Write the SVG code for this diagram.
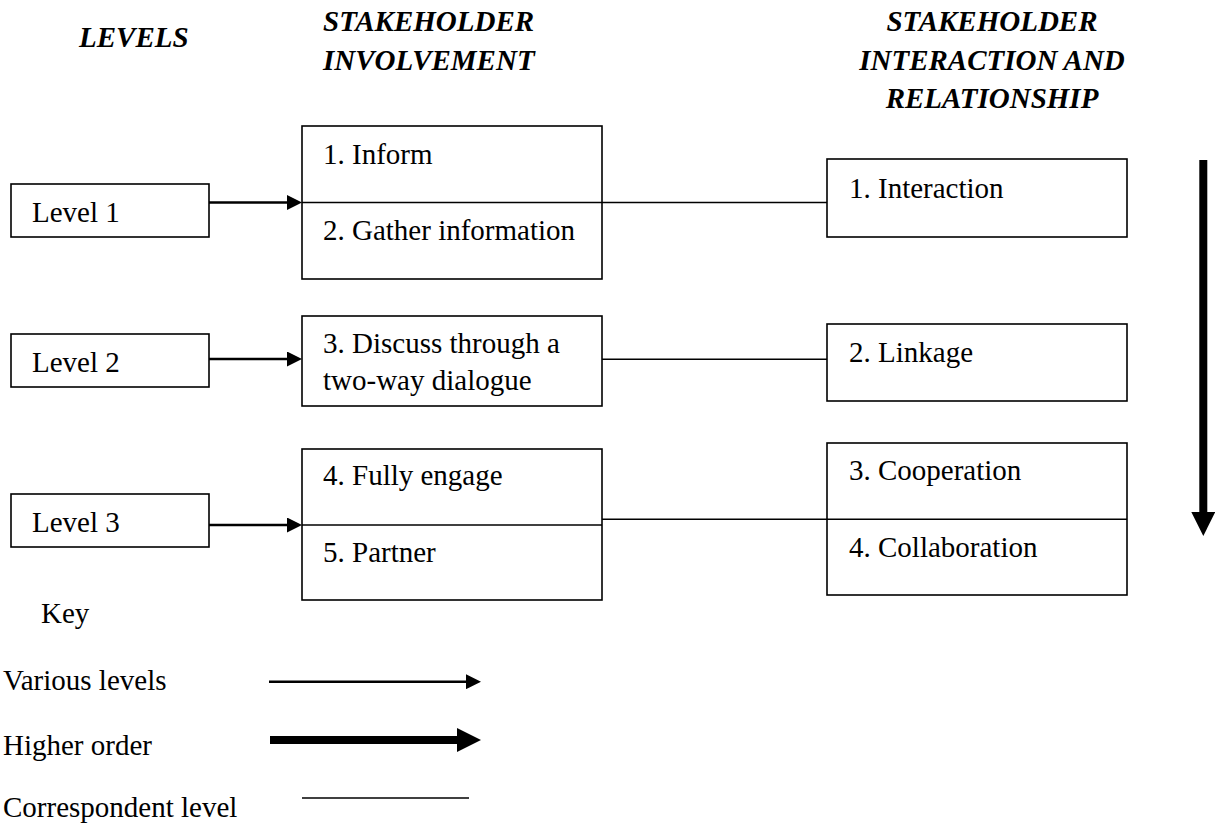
<svg xmlns="http://www.w3.org/2000/svg" width="1219" height="827" viewBox="0 0 1219 827">
  <style>
    .bg { fill: #ffffff; }
    .box { fill: #ffffff; stroke: #000000; stroke-width: 1.6; }
    .div { stroke: #000000; stroke-width: 1.6; fill: none; }
    .arrow { stroke: #000000; stroke-width: 2.5; fill: none; }
    .thick { stroke: #000000; stroke-width: 8; fill: none; }
    .link { stroke: #000000; stroke-width: 1.6; fill: none; }
    .head { font-family: "Liberation Serif", "Times New Roman", serif; font-size: 29px; font-weight: bold; font-style: italic; fill: #000000; }
    .lbl { font-family: "Liberation Serif", "Times New Roman", serif; font-size: 29px; fill: #000000; }
  </style>
  <defs>
    <marker id="tri" viewBox="0 0 15 15" refX="0" refY="7.5" markerWidth="15" markerHeight="15" markerUnits="userSpaceOnUse" orient="auto">
      <path d="M0,0 L15,7.5 L0,15 Z" fill="#000000"/>
    </marker>
    <marker id="triBig" viewBox="0 0 24 24" refX="0" refY="12" markerWidth="24" markerHeight="24" markerUnits="userSpaceOnUse" orient="auto">
      <path d="M0,0 L24,12 L0,24 Z" fill="#000000"/>
    </marker>
  </defs>

  <rect class="bg" x="0" y="0" width="1219" height="827"/>

  <!-- column headings -->
  <g id="heading-levels">
    <text class="head" x="79" y="47">LEVELS</text>
  </g>
  <g id="heading-involvement">
    <text class="head" x="323" y="31">STAKEHOLDER</text>
    <text class="head" x="323" y="70">INVOLVEMENT</text>
  </g>
  <g id="heading-relationship">
    <text class="head" x="992" y="31" text-anchor="middle">STAKEHOLDER</text>
    <text class="head" x="992" y="70" text-anchor="middle">INTERACTION AND</text>
    <text class="head" x="992" y="108" text-anchor="middle">RELATIONSHIP</text>
  </g>

  <!-- level boxes -->
  <g id="level-1">
    <rect class="box" x="11" y="184" width="198" height="53"/>
    <text class="lbl" x="32" y="222">Level 1</text>
  </g>
  <g id="level-2">
    <rect class="box" x="11" y="334" width="198" height="53"/>
    <text class="lbl" x="32" y="372">Level 2</text>
  </g>
  <g id="level-3">
    <rect class="box" x="11" y="494" width="198" height="53"/>
    <text class="lbl" x="32" y="532">Level 3</text>
  </g>

  <!-- stakeholder involvement boxes -->
  <g id="involvement-1-2">
    <rect class="box" x="302" y="126" width="300" height="153"/>
    <text class="lbl" x="323" y="164">1. Inform</text>
    <text class="lbl" x="323" y="240">2. Gather information</text>
  </g>
  <g id="involvement-3">
    <rect class="box" x="302" y="316" width="300" height="90"/>
    <text class="lbl" x="323" y="353">3. Discuss through a</text>
    <text class="lbl" x="323" y="390">two-way dialogue</text>
  </g>
  <g id="involvement-4-5">
    <rect class="box" x="302" y="449" width="300" height="151"/>
    <line class="div" x1="302" y1="525" x2="602" y2="525"/>
    <text class="lbl" x="323" y="485">4. Fully engage</text>
    <text class="lbl" x="323" y="562">5. Partner</text>
  </g>

  <!-- interaction and relationship boxes -->
  <g id="relationship-1">
    <rect class="box" x="827" y="159" width="300" height="78"/>
    <text class="lbl" x="849" y="198">1. Interaction</text>
  </g>
  <g id="relationship-2">
    <rect class="box" x="827" y="324" width="300" height="77"/>
    <text class="lbl" x="849" y="362">2. Linkage</text>
  </g>
  <g id="relationship-3-4">
    <rect class="box" x="827" y="443" width="300" height="152"/>
    <text class="lbl" x="849" y="480">3. Cooperation</text>
    <text class="lbl" x="849" y="557">4. Collaboration</text>
  </g>

  <!-- connectors -->
  <g id="connectors">
    <!-- level to involvement -->
    <line class="arrow" x1="209" y1="202.5" x2="287" y2="202.5" marker-end="url(#tri)"/>
    <line class="arrow" x1="209" y1="359" x2="287" y2="359" marker-end="url(#tri)"/>
    <line class="arrow" x1="209" y1="525" x2="287" y2="525" marker-end="url(#tri)"/>
    <!-- correspondent levels (first one also divides the involvement box) -->
    <line class="link" x1="302" y1="202.5" x2="827" y2="202.5"/>
    <line class="link" x1="602" y1="359.3" x2="827" y2="359.3"/>
    <line class="link" x1="602" y1="519.3" x2="1127" y2="519.3"/>
    <!-- higher order -->
    <line class="thick" x1="1203.3" y1="160" x2="1203.3" y2="512" marker-end="url(#triBig)"/>
  </g>

  <!-- key -->
  <g id="key">
    <text class="lbl" x="41" y="623">Key</text>
    <text class="lbl" x="3" y="690">Various levels</text>
    <line class="arrow" x1="269" y1="681.7" x2="466" y2="681.7" stroke-width="2" marker-end="url(#tri)"/>
    <text class="lbl" x="3" y="755">Higher order</text>
    <line class="thick" x1="270" y1="740" x2="457" y2="740" marker-end="url(#triBig)"/>
    <text class="lbl" x="3" y="817">Correspondent level</text>
    <line class="link" x1="302" y1="798" x2="469" y2="798"/>
  </g>
</svg>
